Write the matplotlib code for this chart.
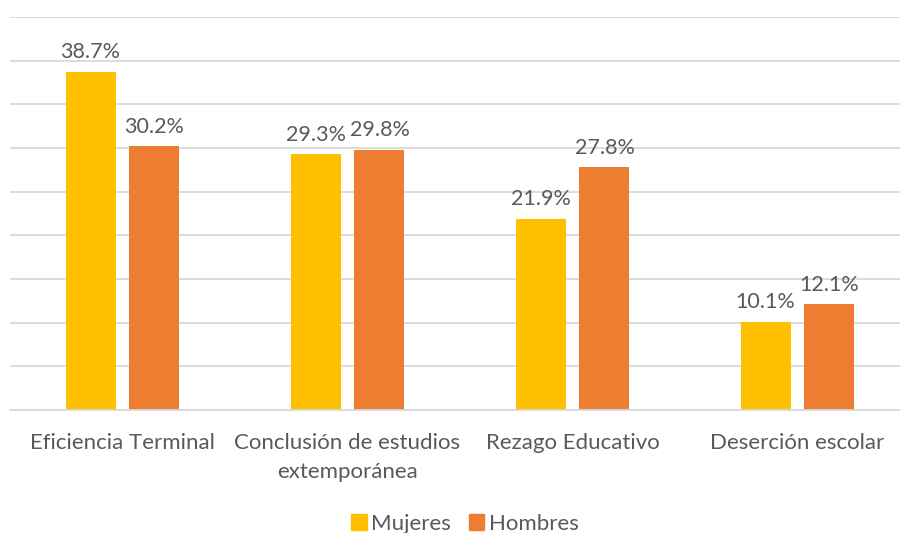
import matplotlib
matplotlib.use("Agg")
import matplotlib.pyplot as plt
import numpy as np
from matplotlib.patches import Patch

categories = ["Eficiencia Terminal", "Conclusión de estudios\nextemporánea", "Rezago Educativo", "Deserción escolar"]
mujeres = [38.7, 29.3, 21.9, 10.1]
hombres = [30.2, 29.8, 27.8, 12.1]
series_names = ["Mujeres", "Hombres"]
colors = ["#FFC000", "#ED7D31"]

plt.rcParams['font.family'] = ['Lato', 'DejaVu Sans']
txt = "#595959"

fig = plt.figure(figsize=(9, 5.33), dpi=100)
ax = fig.add_axes([10/900, 123/533, 890/900, 393/533])
x = np.arange(len(categories))
w = 0.222
off = 0.142
b1 = ax.bar(x - off, mujeres, w, color=colors[0])
b2 = ax.bar(x + off, hombres, w, color=colors[1])
for bars, vals in ((b1, mujeres), (b2, hombres)):
    for r, v in zip(bars, vals):
        ax.text(r.get_x() + r.get_width()/2, v + 1.1, f"{v:.1f}%", ha="center", va="bottom",
                fontsize=15.5, color=txt)
ax.set_ylim(0, 45)
ax.set_xlim(-0.5, 3.5 - 10/225)
ax.set_yticks(np.arange(0, 46, 5))
ax.yaxis.grid(True, color="#D9D9D9", linewidth=1.3)
ax.set_axisbelow(True)
ax.tick_params(axis="y", left=False, labelleft=False)
ax.tick_params(axis="x", bottom=False, pad=13)
ax.set_xticks(x)
ax.set_xticklabels(categories, fontsize=16, color=txt, linespacing=1.55)
for s in ["top", "right", "left"]:
    ax.spines[s].set_visible(False)
ax.spines["bottom"].set_color("#D9D9D9")
ax.spines["bottom"].set_linewidth(1.3)

handles = [Patch(color=c, label=n) for c, n in zip(colors, series_names)]
fig.legend(handles=handles, loc="center", bbox_to_anchor=(465/900, 1 - 524/533), ncol=2, frameon=False,
           fontsize=16, labelcolor=txt, handlelength=0.7, handleheight=0.7, handletextpad=0.2,
           columnspacing=0.8, borderpad=0)
fig.savefig("out.png", dpi=100)
